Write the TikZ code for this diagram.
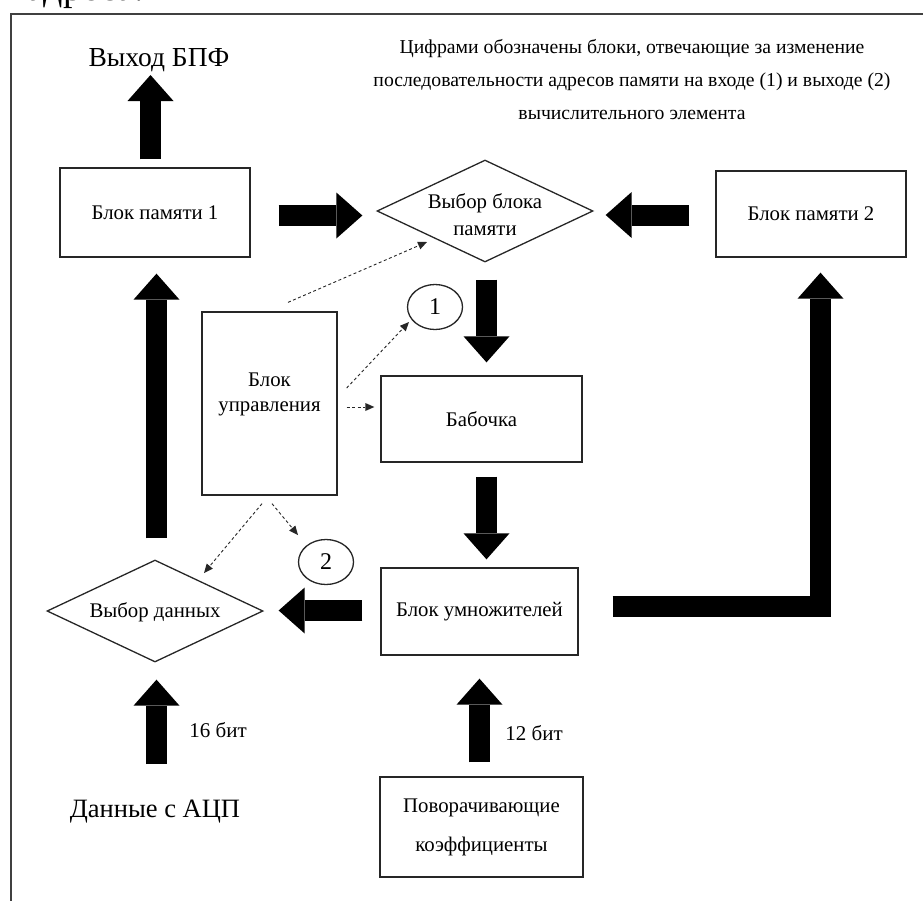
\documentclass[tikz,border=0pt]{standalone}
\usepackage{fontspec}
\setmainfont{Liberation Serif}
\usetikzlibrary{arrows.meta,shapes.geometric}
\begin{document}
\begin{tikzpicture}[x=1pt,y=-1pt,
  txt/.style={font=\fontsize{20.8}{25}\selectfont,align=center,inner sep=0pt},
  box/.style={draw=black!85,line width=1.3pt,inner sep=0pt,txt},
  dia/.style={diamond,draw=black!85,line width=1.3pt,inner sep=0pt,minimum width=216pt,minimum height=102pt,txt},
  circ/.style={ellipse,draw=black!85,line width=1.3pt,inner sep=0pt,minimum width=55pt,minimum height=45pt,font=\fontsize{24}{26}\selectfont},
  big/.style={black,line width=21pt,line cap=butt,line join=miter,-{Triangle[width=46pt,length=26pt,line width=0pt]}},
  dsh/.style={black!85,line width=0.9pt,dash pattern=on 3pt off 2.5pt,-{Triangle[width=8pt,length=9pt,line width=0pt]}},
  frm/.style={draw=black!75,line width=1.5pt}]
\useasboundingbox (0,0) rectangle (923,900);
% frame and cut-off text
\node[anchor=base east,inner sep=0pt,font=\fontsize{38}{40}\selectfont] (cut) at (144,0.5) {ии адреса.};
\draw[frm] (11,905) -- (11,14) -- (928,14);
% nodes
\node[inner sep=0pt,anchor=base,font=\fontsize{27.5}{30}\selectfont] (out) at (159,66) {Выход БПФ};
\node[txt,font=\fontsize{19.7}{33}\selectfont] (note) at (632,80) {Цифрами обозначены блоки, отвечающие за изменение\\последовательности адресов памяти на входе (1) и выходе (2)\\вычислительного элемента};
\node[box,minimum width=190pt,minimum height=89pt] (mem1) at (155,212.5) {Блок памяти 1};
\node[box,minimum width=190pt,minimum height=86pt] (mem2) at (811,214) {Блок памяти 2};
\node[dia,label={[txt,font=\fontsize{20.8}{27}\selectfont,yshift=-4pt]center:Выбор блока\\памяти}] (sel) at (485,211) {};
\node[box,minimum width=135pt,minimum height=183pt,label={[txt,yshift=9pt]center:Блок\\управления}] (ctrl) at (269.5,403.5) {};
\node[circ] (c1) at (435,307) {1};
\node[box,minimum width=201pt,minimum height=86pt] (bf) at (481.5,419) {Бабочка};
\node[box,minimum width=197pt,minimum height=87pt] (mul) at (479.5,611.5) {Блок умножителей};
\node[circ] (c2) at (326,562) {2};
\node[dia,label={[txt,yshift=-1pt]center:Выбор данных}] (dsel) at (155,611) {};
\node[box,minimum width=203pt,minimum height=100pt,font=\fontsize{20.8}{39}\selectfont] (tw) at (481.5,827) {Поворачивающие\\коэффициенты};
\node[inner sep=0pt,anchor=base,font=\fontsize{26.5}{30}\selectfont] (adc) at (155,817) {Данные с АЦП};
\node[txt,font=\fontsize{21}{25}\selectfont] (b16) at (218,730) {16 бит};
\node[txt,font=\fontsize{21}{25}\selectfont] (b12) at (534,733) {12 бит};
% big arrows
\draw[big] ([xshift=-4.5pt,yshift=8pt]mem1.north) -- ([xshift=-8.5pt,yshift=-9pt]out.base);
\draw[big] ([xshift=28pt,yshift=-3pt]mem1.east) -- ([xshift=-14pt,yshift=-4.5pt]sel.west);
\draw[big] ([xshift=-26pt,yshift=-1pt]mem2.west) -- ([xshift=12pt,yshift=-4pt]sel.east);
\draw[big] ([xshift=1.5pt,yshift=-17pt]sel.south) -- ([xshift=5pt,yshift=13pt]bf.north);
\draw[big] ([xshift=5pt,yshift=-14pt]bf.south) -- ([xshift=7pt,yshift=8pt]mul.north);
\draw[big] ([xshift=-2pt,yshift=14pt]tw.north) -- ([xshift=0pt,yshift=-23pt]mul.south);
\draw[big] ([xshift=-18pt,yshift=1pt]mul.west) -- ([xshift=15pt,yshift=0.5pt]dsel.east);
\draw[big] ([xshift=34pt,yshift=5.5pt]mul.east) -| ([xshift=9.5pt,yshift=-15pt]mem2.south);
\draw[big] ([xshift=1.5pt,yshift=21pt]dsel.north) -- ([xshift=1.5pt,yshift=-16pt]mem1.south);
\draw[big] ([xshift=1.5pt,yshift=53pt]adc.base) -- ([xshift=1.5pt,yshift=-17pt]dsel.south);
% dashed control arrows
\draw[dsh] ([xshift=18.5pt,yshift=9pt]ctrl.north) -- ([xshift=-58pt,yshift=-31pt]sel.center);
\draw[dsh] ([xshift=9pt,yshift=15.5pt]ctrl.east) -- ([xshift=-26pt,yshift=-15pt]c1.center);
\draw[dsh] ([xshift=9pt,yshift=-3.5pt]ctrl.east) -- ([xshift=-6pt,yshift=12pt]bf.west);
\draw[dsh] ([xshift=-7.5pt,yshift=-8pt]ctrl.south) -- ([xshift=49pt,yshift=38pt]dsel.center);
\draw[dsh] ([xshift=2.5pt,yshift=-8pt]ctrl.south) -- ([xshift=-28pt,yshift=27pt]c2.center);
\end{tikzpicture}
\end{document}
